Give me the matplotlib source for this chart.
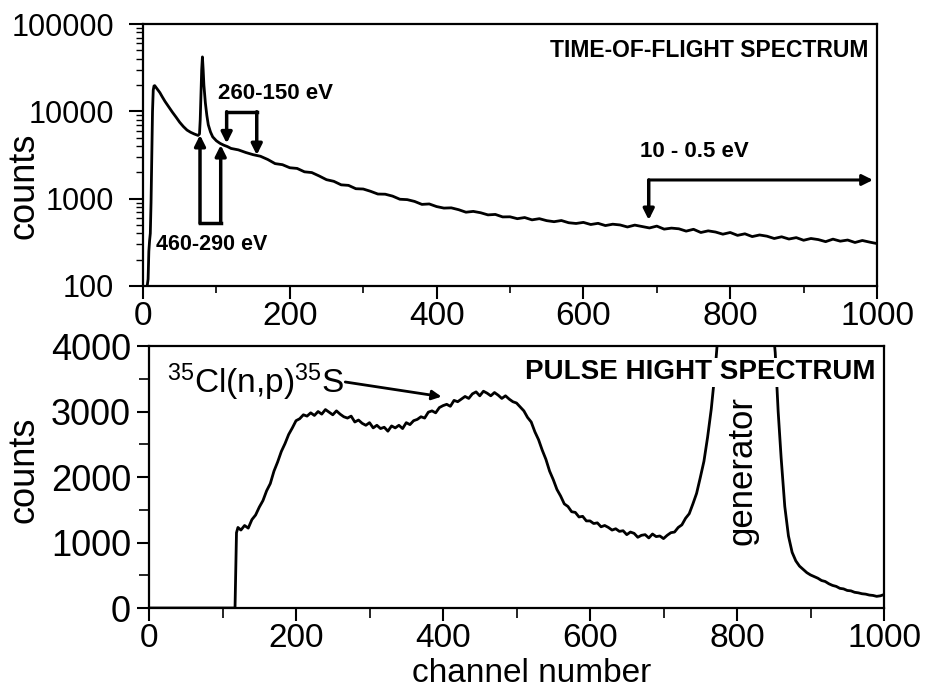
import matplotlib
matplotlib.use("Agg")
import matplotlib.pyplot as plt
from matplotlib.ticker import MultipleLocator, LogLocator, NullFormatter

plt.rcParams['font.family'] = ['Liberation Sans', 'DejaVu Sans']
plt.rcParams['mathtext.fontset'] = 'custom'
plt.rcParams['mathtext.rm'] = 'Liberation Sans'
plt.rcParams['mathtext.it'] = 'Liberation Sans:italic'
plt.rcParams['mathtext.bf'] = 'Liberation Sans:bold'

# time-of-flight spectrum
tof_head_ch = [5, 7, 8, 9, 10, 11, 12, 13, 14, 15, 16, 17, 20, 23, 26, 30, 35, 40, 45,
               50, 55, 60, 65, 70, 75, 77, 78, 79, 80, 81, 82, 83, 85, 87, 89, 92, 95,
               100, 105, 110, 115]
tof_head = [90, 120, 250, 330, 400, 900, 3000, 10000, 17500, 19500, 19700, 19200,
            17800, 16400, 14800, 13000, 11300, 9800, 8600, 7500, 6700, 6100, 5750,
            5500, 5300, 5500, 8000, 15000, 30000, 42000, 30000, 20000, 12500, 9000,
            7000, 5800, 5100, 4600, 4300, 4100, 3950]
tof_tail_ch = list(range(120, 1001, 10))
tof_tail = [3760, 3620, 3380, 3190, 3060, 2810, 2520, 2450, 2260, 2220,
            2030, 1990, 1820, 1650, 1580, 1440, 1420, 1300, 1290, 1215,
            1130, 1125, 1070, 985, 975, 930, 860, 870, 812, 780,
            785, 748, 700, 715, 690, 652, 660, 618, 620, 590,
            608, 572, 590, 560, 545, 562, 530, 520, 535, 506,
            522, 492, 510, 500, 474, 498, 480, 462, 485, 448,
            460, 452, 425, 446, 410, 428, 415, 392, 410, 380,
            396, 368, 384, 372, 350, 366, 345, 358, 334, 350,
            340, 322, 344, 326, 336, 315, 332, 318, 306]

# pulse height spectrum
ph_ch = [0, 117, 119, 121, 125, 130, 135, 140, 145, 150,
         155, 160, 165, 170, 175, 180, 185, 190, 195, 200,
         205, 210, 215, 220, 225, 230, 235, 240, 245, 250,
         255, 260, 265, 270, 275, 280, 285, 290, 295, 300,
         305, 310, 315, 320, 325, 330, 335, 340, 345, 350,
         355, 360, 365, 370, 375, 380, 385, 390, 395, 400,
         405, 410, 415, 420, 425, 430, 435, 440, 445, 450,
         455, 460, 465, 470, 475, 480, 485, 490, 495, 500,
         505, 510, 515, 520, 525, 530, 535, 540, 545, 550,
         555, 560, 565, 570, 575, 580, 585, 590, 595, 600,
         605, 610, 615, 620, 625, 630, 635, 640, 645, 650,
         655, 660, 665, 670, 675, 680, 685, 690, 695, 700,
         705, 710, 715, 720, 725, 730, 735, 740, 745, 750,
         755, 760, 765, 770, 775, 780, 790, 800, 810, 820,
         830, 840, 848, 852, 856, 860, 865, 870, 875, 880,
         885, 890, 895, 900, 905, 910, 915, 920, 925, 930,
         935, 940, 945, 950, 955, 960, 965, 970, 975, 980,
         985, 990, 995, 1000]
ph_counts = [0, 0, 1150, 1230, 1190, 1260, 1220, 1350, 1420, 1540,
             1640, 1790, 1900, 2090, 2230, 2390, 2510, 2650, 2750, 2860,
             2890, 2950, 2930, 2980, 2940, 3000, 2960, 3030, 2990, 2950,
             3010, 2960, 2920, 2900, 2930, 2840, 2870, 2820, 2790, 2830,
             2750, 2790, 2740, 2760, 2700, 2780, 2750, 2790, 2740, 2830,
             2800, 2860, 2880, 2920, 2900, 2990, 3010, 2980, 3060, 3090,
             3110, 3080, 3170, 3150, 3190, 3230, 3200, 3270, 3300, 3240,
             3310, 3280, 3240, 3290, 3250, 3200, 3240, 3190, 3150, 3130,
             3070, 3010, 2910, 2840, 2690, 2570, 2410, 2270, 2090, 1960,
             1810, 1710, 1590, 1550, 1470, 1460, 1390, 1400, 1330, 1330,
             1290, 1300, 1240, 1260, 1230, 1190, 1210, 1170, 1180, 1120,
             1160, 1140, 1080, 1110, 1120, 1070, 1130, 1090, 1100, 1060,
             1110, 1150, 1160, 1230, 1270, 1370, 1440, 1590, 1750, 1990,
             2240, 2610, 3040, 3600, 4300, 5200, 6800, 7800, 8000, 7600,
             6500, 5300, 4400, 3900, 3000, 2300, 1550, 1100, 850, 720,
             640, 590, 540, 505, 480, 455, 420, 405, 370, 345,
             330, 300, 292, 268, 262, 240, 232, 218, 212, 198,
             192, 178, 186, 205]

fig = plt.figure(figsize=(9.32, 6.94), dpi=100)
ax1 = fig.add_axes([0.1534, 0.5879, 0.7876, 0.3775])
ax2 = fig.add_axes([0.1599, 0.1239, 0.7886, 0.3775])

# ---- top: time of flight ----
ax1.plot(tof_head_ch + tof_tail_ch, tof_head + tof_tail, color='k', lw=2.0)
ax1.set_yscale('log')
ax1.set_xlim(0, 1000)
ax1.set_ylim(100, 100000)
ax1.set_yticks([100, 1000, 10000, 100000])
ax1.set_yticklabels(['100', '1000', '10000', '100000'])
ax1.yaxis.set_minor_locator(LogLocator(base=10, subs=range(2, 10)))
ax1.yaxis.set_minor_formatter(NullFormatter())
ax1.xaxis.set_major_locator(MultipleLocator(200))
ax1.xaxis.set_minor_locator(MultipleLocator(100))
ax1.tick_params(axis='y', which='major', labelsize=22, pad=11, length=10, width=1.5, direction='out')
ax1.tick_params(axis='y', which='minor', length=5, width=1.0, direction='out')
ax1.tick_params(axis='x', which='major', labelsize=24, pad=2, length=9, width=1.5, direction='out')
ax1.tick_params(axis='x', which='minor', length=5, width=1.2, direction='out')
for s in ax1.spines.values():
    s.set_linewidth(1.6)

ax1.text(0.988, 0.90, 'TIME-OF-FLIGHT SPECTRUM', transform=ax1.transAxes,
         ha='right', va='center', fontsize=16.5, fontweight='bold')


def arrow(ax, tail, tip, lw=2.5, ms=16):
    ax.annotate('', xy=tip, xytext=tail,
                arrowprops=dict(arrowstyle='-|>', lw=lw, color='k',
                                mutation_scale=ms, shrinkA=0, shrinkB=0))


# 460-290 eV bracket (arrows up)
ax1.plot([77.7, 105.9], [522, 522], color='k', lw=2.5, solid_capstyle='projecting')
arrow(ax1, (77.7, 522), (77.7, 5360))
arrow(ax1, (105.9, 522), (105.9, 4110))
ax1.text(18, 295, '460-290 eV', ha='left', va='center', fontsize=15.5, fontweight='bold')

# 260-150 eV bracket (arrows down)
ax1.plot([114, 155], [9900, 9900], color='k', lw=2.5, solid_capstyle='projecting')
arrow(ax1, (114, 9900), (114, 4300))
arrow(ax1, (155, 9900), (155, 3160))
ax1.text(102, 16200, '260-150 eV', ha='left', va='center', fontsize=16, fontweight='bold')

# 10 - 0.5 eV
arrow(ax1, (689, 1637), (689, 570))
arrow(ax1, (689, 1637), (994.5, 1637), lw=2.2)
ax1.text(677, 3500, '10 - 0.5 eV', ha='left', va='center', fontsize=16, fontweight='bold')

fig.text(0.026, 1 - 186 / 694, 'counts', rotation=90, ha='center', va='center', fontsize=26)

# ---- bottom: pulse height ----
ax2.plot(ph_ch, ph_counts, color='k', lw=2.0, zorder=2)
ax2.set_xlim(0, 1000)
ax2.set_ylim(0, 4000)
ax2.xaxis.set_major_locator(MultipleLocator(200))
ax2.xaxis.set_minor_locator(MultipleLocator(100))
ax2.yaxis.set_major_locator(MultipleLocator(1000))
ax2.yaxis.set_minor_locator(MultipleLocator(500))
ax2.tick_params(axis='both', which='major', labelsize=24, pad=2, length=9, width=1.5, direction='out')
ax2.tick_params(axis='both', which='minor', length=7, width=1.2, direction='out')
ax2.tick_params(axis='y', which='major', labelsize=26, pad=4)
for s in ax2.spines.values():
    s.set_linewidth(1.6)

ax2.text(0.989, 0.90, 'PULSE HIGHT SPECTRUM', transform=ax2.transAxes,
         ha='right', va='center', fontsize=20, fontweight='bold', zorder=5,
         bbox=dict(facecolor='white', edgecolor='none', pad=1))
ax2.text(807, 2107, 'generator', rotation=90, ha='center', va='center', fontsize=25)
ax2.text(24, 3278, r'$^{35}$Cl(n,p)$^{35}$S', ha='left', va='baseline', fontsize=24)
arrow(ax2, (267, 3451), (398, 3227), lw=2.0, ms=14)

ax2.set_xlabel('channel number', fontsize=24)
ax2.xaxis.set_label_coords(0.52, -0.19)
fig.text(0.026, 1 - 470 / 694, 'counts', rotation=90, ha='center', va='center', fontsize=26)

fig.savefig('out.png', dpi=100)
